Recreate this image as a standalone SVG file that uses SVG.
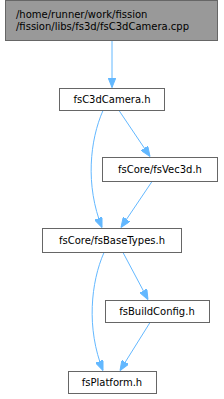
<svg xmlns="http://www.w3.org/2000/svg" width="224" height="399" viewBox="0 0 224 399">
<style>
.n rect{fill:#ffffff;stroke:#666666;stroke-width:1}
.n.root rect{fill:#999999}
text{font-family:"DejaVu Sans",sans-serif;font-size:10px;fill:#000000}
.e path{fill:none;stroke:#63b8ff;stroke-width:1}
</style>
<defs>
<marker id="ah" markerUnits="userSpaceOnUse" markerWidth="10" markerHeight="8" refX="10" refY="4" orient="auto">
<path d="M0,0 L10,4 L0,8 z" fill="#63b8ff" stroke="#63b8ff" stroke-width="1"/>
</marker>
</defs>
<g id="edges" class="e">
<path d="M112,40.5 L112,87.5" marker-end="url(#ah)"/>
<path d="M103,110.5 C90,140 85,185 102,227.5" marker-end="url(#ah)"/>
<path d="M119,110.5 L150,156.5" marker-end="url(#ah)"/>
<path d="M152,181.5 L121,227.5" marker-end="url(#ah)"/>
<path d="M104,252.5 C91,282 86,328 103,370.5" marker-end="url(#ah)"/>
<path d="M123,252.5 L148,299.5" marker-end="url(#ah)"/>
<path d="M150,322.5 L120,370.5" marker-end="url(#ah)"/>
</g>
<g id="node1" class="n root">
<rect x="5.5" y="0.5" width="212" height="40"/>
<text x="16" y="18">/home/runner/work/fission</text>
<text x="16" y="30">/fission/libs/fs3d/fsC3dCamera.cpp</text>
</g>
<g id="node2" class="n">
<rect x="59.5" y="88.5" width="105" height="22"/>
<text x="112" y="103" text-anchor="middle">fsC3dCamera.h</text>
</g>
<g id="node3" class="n">
<rect x="102.5" y="157.5" width="115" height="24"/>
<text x="160" y="173" text-anchor="middle">fsCore/fsVec3d.h</text>
</g>
<g id="node4" class="n">
<rect x="42.5" y="228.5" width="139" height="24"/>
<text x="112" y="244" text-anchor="middle">fsCore/fsBaseTypes.h</text>
</g>
<g id="node5" class="n">
<rect x="105.5" y="300.5" width="104" height="22"/>
<text x="157" y="315" text-anchor="middle">fsBuildConfig.h</text>
</g>
<g id="node6" class="n">
<rect x="68.5" y="371.5" width="88" height="22"/>
<text x="112" y="386" text-anchor="middle">fsPlatform.h</text>
</g>
</svg>
